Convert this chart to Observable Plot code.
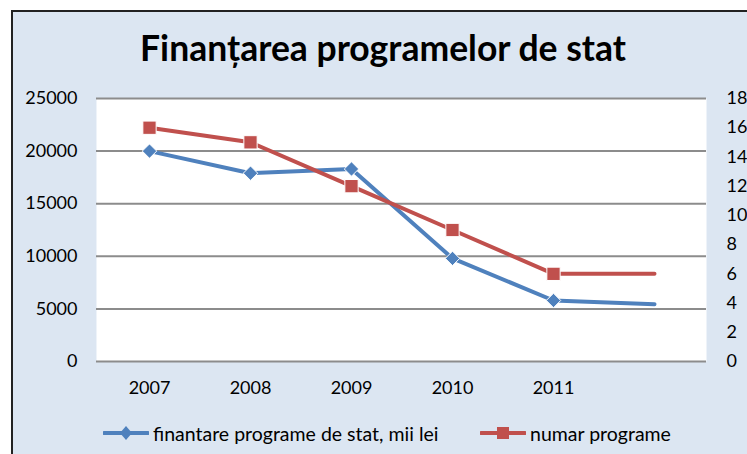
<!DOCTYPE html>
<html><head><meta charset="utf-8">
<script src="https://cdn.jsdelivr.net/npm/d3@7"></script>
<script src="https://cdn.jsdelivr.net/npm/@observablehq/plot@0.6"></script>
<style>
body{margin:0;width:747px;height:454px;overflow:hidden;background:#fff;font-family:Lato,sans-serif;position:relative}
#panel{position:absolute;left:11px;top:10px;width:760px;height:460px;background:#dce6f2;border-left:2px solid #222;border-top:2px solid #222}
#title{position:absolute;left:0;width:766px;top:30px;line-height:36px;text-align:center;font-weight:bold;font-size:35.5px;color:#000;white-space:nowrap}
#chart{position:absolute;left:0;top:80px}
.leg{position:absolute;top:421px;height:24px;display:flex;align-items:center;font-size:19.5px;color:#000;white-space:nowrap}
.leg svg{margin-right:4px}
</style></head>
<body>
<div id="panel"></div>
<div id="title">Finanțarea programelor de stat</div>
<div id="chart"></div>
<div class="leg" style="left:103px"><svg width="46" height="24"><line x1="1" x2="45" y1="12" y2="12" stroke="#4f81bd" stroke-width="4" stroke-linecap="round"/><path d="M23,5L29,12L23,19L17,12Z" fill="#4f81bd"/></svg><span>finantare programe de stat, mii lei</span></div>
<div class="leg" style="left:480px"><svg width="46" height="24"><line x1="1" x2="45" y1="12" y2="12" stroke="#c0504d" stroke-width="4" stroke-linecap="round"/><rect x="17" y="6" width="12" height="12" fill="#c0504d"/></svg><span>numar programe</span></div>
<script>
const years = ["2007","2008","2009","2010","2011",""];
const funding = [20000,17900,18300,9800,5800,5450];
const programs = [16,15,12,9,6,6];
const leftTicks = [0,5000,10000,15000,20000,25000];
const rightTicks = [0,2,4,6,8,10,12,14,16,18];
const LEFT_MAX = 25000, RIGHT_MAX = 18;
const k = LEFT_MAX / RIGHT_MAX;

const fundRows = years.map((y,i)=>({year:y, v:funding[i]}));
const progRows = years.map((y,i)=>({year:y, v:programs[i]*k}));

const chart = Plot.plot({
  width:747, height:320,
  marginLeft:96, marginRight:41, marginTop:18, marginBottom:39,
  style:{background:"transparent", fontFamily:"Lato, sans-serif", fontSize:"18px", color:"#000"},
  x:{type:"point", domain:years, padding:0.5},
  y:{domain:[0, LEFT_MAX]},
  marks:[
    Plot.frame({fill:"white", stroke:"none"}),
    Plot.ruleY(leftTicks, {stroke:"#8c8c8c", strokeWidth:2}),
    Plot.axisY({ticks:leftTicks, anchor:"left", tickSize:0, tickPadding:19, label:null, tickFormat:d=>String(d)}),
    Plot.axisY({ticks:rightTicks.map(v=>v*k), anchor:"right", tickSize:0, tickPadding:20, label:null, tickFormat:d=>String(Math.round(d/k))}),
    Plot.axisX({tickSize:0, tickPadding:20, label:null}),
    Plot.line(fundRows, {x:"year", y:"v", stroke:"#4f81bd", strokeWidth:4, strokeLinecap:"round"}),
    Plot.dot(fundRows.filter(d=>d.year), {x:"year", y:"v", symbol:"diamond2", r:6.5, fill:"#4f81bd", stroke:"white", strokeWidth:1}),
    Plot.line(progRows, {x:"year", y:"v", stroke:"#c0504d", strokeWidth:4, strokeLinecap:"round"}),
    Plot.dot(progRows.filter(d=>d.year), {x:"year", y:"v", symbol:"square", r:7.5, fill:"#c0504d", stroke:"white", strokeWidth:1})
  ]
});
document.getElementById("chart").appendChild(chart);
</script>
</body></html>
